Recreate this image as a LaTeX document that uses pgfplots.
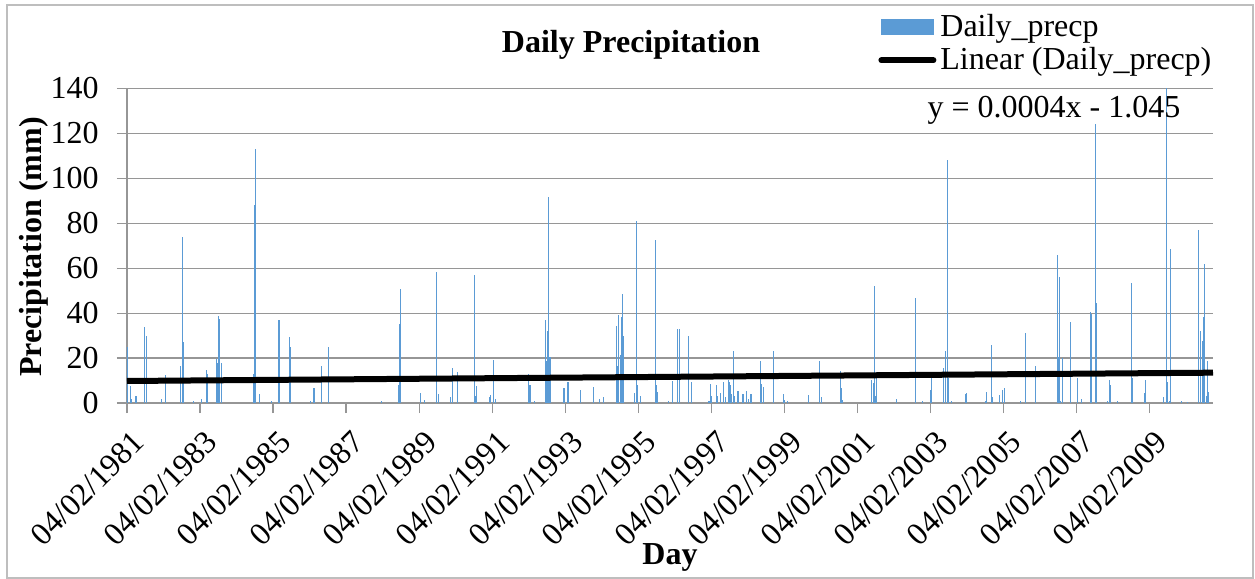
\documentclass[border=0pt]{standalone}
\usepackage{pgfplots}
\pgfplotsset{compat=1.18}
\usepackage{fontspec}
\setmainfont{Liberation Serif}
\definecolor{precblue}{RGB}{91,155,213}
\definecolor{gridgray}{RGB}{150,150,150}
\definecolor{framegray}{RGB}{190,190,190}
\newcommand{\chartfont}{\fontsize{16pt}{19pt}\selectfont}

\begin{document}
\begin{tikzpicture}
\useasboundingbox (-63.5pt,-88pt) rectangle (564pt,201.5pt);
\draw[framegray, line width=0.6pt] (-60pt,-87.5pt) rectangle (563pt,199pt);
\begin{axis}[
  at={(0,0)}, anchor=south west,
  scale only axis, width=543pt, height=157.25pt,
  xmin=0, xmax=10860, ymin=0, ymax=140,
  scaled x ticks=false, scaled y ticks=false,
  axis x line*=bottom, axis y line*=left,
  axis line style={gridgray, line width=0.6pt, -},
  xtick={0,730,1461,2191,2922,3652,4383,5113,5844,6574,7305,8035,8766,9496,10227},
  xticklabels={04/02/1981,04/02/1983,04/02/1985,04/02/1987,04/02/1989,04/02/1991,04/02/1993,04/02/1995,04/02/1997,04/02/1999,04/02/2001,04/02/2003,04/02/2005,04/02/2007,04/02/2009},
  ytick={0,20,...,140},
  tick align=outside, major tick length=5pt,
  tick style={gridgray, line width=0.6pt},
  ymajorgrids, grid style={gridgray, line width=0.6pt},
  xticklabel style={font=\chartfont, rotate=45, anchor=north east, inner sep=0pt, xshift=-4pt, yshift=-7pt},
  yticklabel style={font=\chartfont, anchor=east, inner sep=0pt, xshift=-9pt},
  /pgf/number format/assume math mode=true,
  legend style={draw=none, fill=none, font=\chartfont, at={(0.686,1.262)}, anchor=north west, row sep=0pt},
  legend cell align=left,
]
% daily rainfall, day 0 = 04/02/1981
\addplot[ycomb, draw=precblue, line width=0.55pt, mark=none,
  legend image code/.code={\fill[precblue] (0pt,-3.5pt) rectangle (26pt,4pt);}]
  coordinates {
  (0,25) (37,7.6) (47,2) (90,3) (173,33.9) (197,30) (346,2) (389,12.4)
  (532,16.3) (556,73.9) (562,27) (662,1) (746,2) (792,14.8) (802,13)
  (895,19.4) (905,18) (911,38.7) (928,37.3) (945,18)
  (1268,12.8) (1278,88) (1281,113.2) (1288,15.8) (1321,4) (1445,1)
  (1520,36.9) (1627,29.6) (1637,25) (1834,1) (1870,6.5) (1944,16.3) (2014,24.8)
  (2543,1) (2714,8) (2725,35) (2738,50.7) (2932,4.4) (2972,1.5)
  (3092,56.9) (3098,58.4) (3118,3.8) (3232,2.7) (3257,15.8) (3301,13.6) (3308,1)
  (3477,56.9) (3484,3) (3497,7.6) (3624,2.7) (3634,3.5) (3661,19.1) (3681,2)
  (4016,12.8) (4030,8) (4073,1) (4183,36.9) (4193,18.5) (4206,32) (4213,91.7) (4230,20.7)
  (4370,6.5) (4410,9.5) (4535,6) (4669,7) (4725,2) (4769,2.7)
  (4899,34.4) (4909,16.3) (4919,39.3) (4939,21.5) (4949,38.2) (4959,48.4) (4965,29.8)
  (5075,4.4) (5095,80.9) (5105,8) (5135,3) (5284,72.4) (5291,8) (5304,5)
  (5414,1) (5454,10) (5504,32.9) (5528,32.9) (5611,29.8) (5644,2.5) (5647,9.5)
  (5820,1) (5837,8.3) (5843,3) (5893,8) (5903,3) (5933,4.4) (5967,9.5) (5987,2.5)
  (6013,10.3) (6023,9.5) (6033,8) (6043,4) (6063,23.3) (6077,3) (6103,3.5) (6110,5.5)
  (6160,3.8) (6193,5.5) (6213,2) (6240,4) (6336,18.8) (6342,8.4) (6362,7) (6466,23.3)
  (6562,4) (6576,1.5) (6602,1) (6818,3.7) (6921,18.8) (6945,2.7)
  (7135,14.1) (7141,6.5) (7151,1.5) (7441,10.3) (7461,8.7) (7471,52.1) (7481,3) (7495,14)
  (7694,2) (7883,46.8) (7959,0.7) (8033,6) (8049,11)
  (8169,15.8) (8189,23.3) (8203,40.1) (8209,108) (8216,11) (8243,1)
  (8389,4) (8399,4.4) (8583,1) (8593,5) (8645,26) (8652,2.7) (8728,3.7) (8755,6) (8775,6.5)
  (8932,1) (8988,31) (9088,16.3) (9307,65.8) (9314,20.7) (9324,56.1) (9334,1) (9357,20)
  (9431,3.5) (9437,36.1) (9507,11) (9547,2) (9637,40.3) (9640,18) (9647,39.8)
  (9681,1) (9687,124) (9697,44.4) (9807,1) (9821,10.1) (9837,8) (9907,1)
  (10046,53.6) (10053,11) (10173,4.4) (10186,10.3) (10369,2.7) (10395,145) (10405,9.5)
  (10425,1) (10439,68.7) (10545,1) (10602,0.5)
  (10719,76.9) (10739,32) (10752,27.6) (10765,38.2) (10779,61.8) (10792,3) (10805,18.8) (10815,4.7)
  };
\addlegendentry{Daily\_precp}
% least-squares trend of the daily series
\addplot[black, line width=3pt, mark=none,
  legend image code/.code={\draw[black, line width=3pt, line cap=round] (0pt,0pt) -- (26pt,0pt);}]
  coordinates {(0,9.8) (10860,13.5)};
\addlegendentry{Linear (Daily\_precp)}
\end{axis}
\node[font=\chartfont\bfseries] at (252pt,179pt) {Daily Precipitation};
\node[font=\chartfont] at (463.5pt,146.5pt) {y = 0.0004x - 1.045};
\node[font=\chartfont\bfseries] at (271.5pt,-77pt) {Day};
\node[font=\chartfont\bfseries, rotate=90] at (-46.5pt,78pt) {Precipitation (mm)};
\end{tikzpicture}
\end{document}
